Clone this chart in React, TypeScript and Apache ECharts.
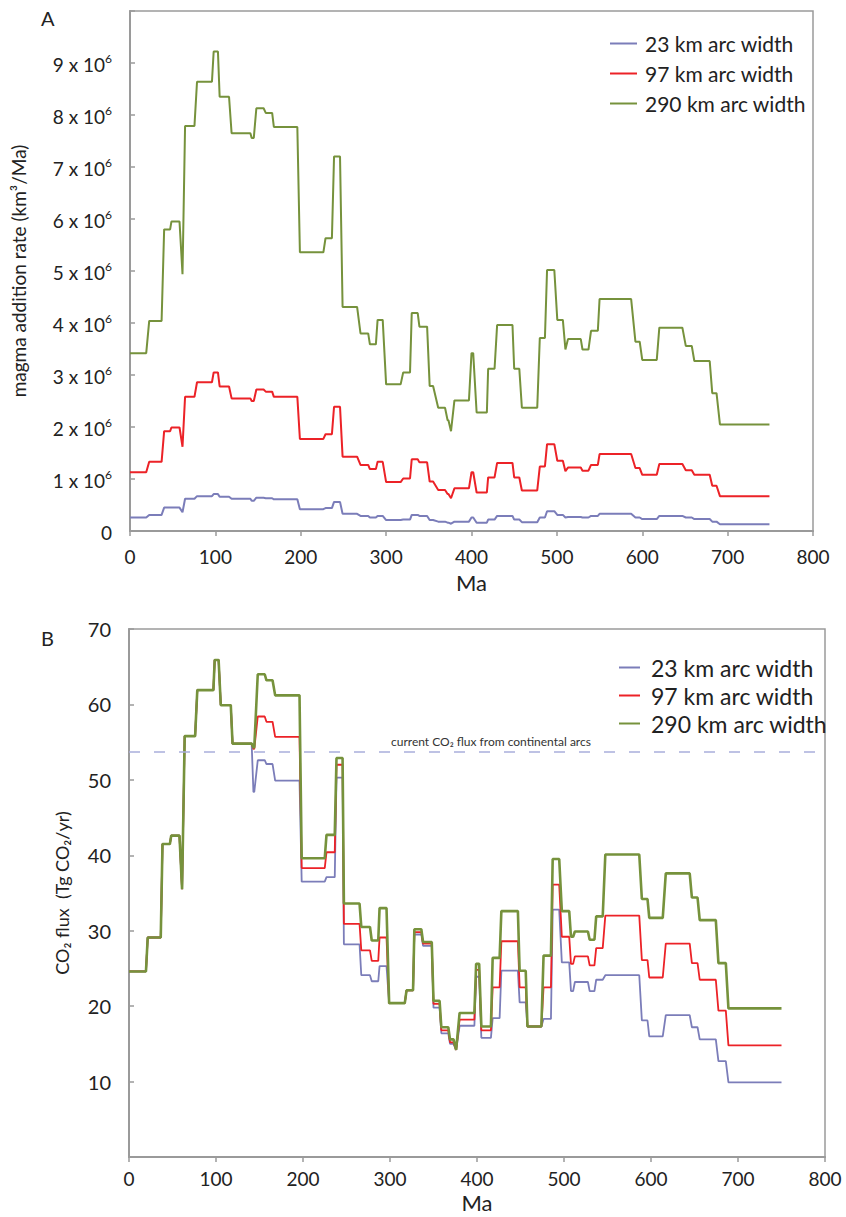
import React, { useEffect, useRef } from 'react';
import * as echarts from 'echarts';

const SERIES_NAMES = ['23 km arc width', '97 km arc width', '290 km arc width'];
const COLORS = ['#7b7db9', '#ec2227', '#76923c'];
const X_TICKS = [0, 100, 200, 300, 400, 500, 600, 700, 800];

// Panel A: plateau start / end ages (Ma) and magma addition rate (x 10^6 km3/Ma)
const agesStartA = [0, 22.5, 40, 48.5, 61.5, 64.5, 78.5, 98, 105, 119, 142.5, 148, 159, 168.5, 199, 229, 239, 249, 270, 281, 290, 300, 320, 330, 339, 351, 361, 372, 376, 380, 400, 406, 419.5, 430, 450, 459, 480, 488.5, 500.5, 510, 513, 530, 540, 550, 592, 600, 620, 651, 661, 682, 691];
const agesEndA = [19, 37, 47, 58, 61.5, 75.5, 96, 103, 116, 141, 145, 156.5, 166.5, 196, 226.5, 236.5, 246, 266, 279, 288, 296, 317, 328, 337, 348, 355, 369, 373, 376, 397, 402, 418, 427, 448, 456, 477, 486, 497, 507, 510, 528, 537, 548, 587, 597, 617, 647, 658, 679, 687, 749];
const magma23 = [0.26, 0.31, 0.45, 0.45, 0.36, 0.62, 0.67, 0.71, 0.66, 0.62, 0.58, 0.64, 0.63, 0.61, 0.42, 0.44, 0.56, 0.33, 0.29, 0.26, 0.29, 0.21, 0.22, 0.31, 0.29, 0.21, 0.18, 0.16, 0.14, 0.18, 0.26, 0.16, 0.22, 0.29, 0.22, 0.17, 0.26, 0.38, 0.31, 0.26, 0.27, 0.26, 0.29, 0.33, 0.26, 0.23, 0.29, 0.26, 0.23, 0.18, 0.13];
const magma97 = [1.13, 1.33, 1.92, 1.99, 1.62, 2.58, 2.86, 3.05, 2.78, 2.55, 2.50, 2.72, 2.68, 2.58, 1.77, 1.86, 2.39, 1.43, 1.27, 1.19, 1.33, 0.94, 1.01, 1.38, 1.32, 0.95, 0.79, 0.71, 0.63, 0.82, 1.13, 0.74, 1.03, 1.31, 1.03, 0.78, 1.24, 1.67, 1.35, 1.15, 1.22, 1.16, 1.27, 1.48, 1.21, 1.08, 1.29, 1.17, 1.08, 0.87, 0.67];
const magma290 = [3.42, 4.04, 5.80, 5.95, 4.94, 7.79, 8.64, 9.22, 8.35, 7.65, 7.56, 8.13, 8.04, 7.77, 5.36, 5.63, 7.20, 4.31, 3.80, 3.59, 4.06, 2.82, 3.05, 4.19, 3.93, 2.79, 2.37, 2.13, 1.92, 2.51, 3.42, 2.28, 3.12, 3.96, 3.12, 2.37, 3.71, 5.02, 4.06, 3.49, 3.69, 3.49, 3.85, 4.46, 3.64, 3.29, 3.91, 3.56, 3.27, 2.65, 2.05];
const yTicksA = [0, 1, 2, 3, 4, 5, 6, 7, 8, 9];

// Panel B: plateau start / end ages (Ma) and CO2 flux (Tg CO2/yr)
const agesStartB = [0, 21.5, 38.5, 48.5, 61, 64, 78.5, 98.5, 105.5, 119, 143, 148, 158, 168, 198.5, 227, 238.5, 247, 267, 279, 288, 299, 319, 328, 338, 350, 359, 369, 376, 380, 399, 405, 418, 428, 449, 458, 476.5, 487, 497.5, 508, 512.5, 529.5, 537, 547.5, 589.5, 598, 617, 647, 656, 677.5, 689];
const agesEndB = [19.5, 36.5, 47, 58, 61, 76, 97, 103, 117, 141, 144, 156, 165, 196, 225, 236.5, 245.5, 265, 277, 286.5, 296, 317, 326.5, 336, 348, 357, 367, 373, 376, 397, 402.5, 416, 426, 447, 456, 474, 485, 494.5, 506, 510.5, 527.5, 535, 544.5, 586.5, 596, 613.5, 644.5, 653.5, 674.5, 686, 750];
const flux23 = [24.6, 29.1, 41.5, 42.6, 35.5, 55.8, 61.9, 65.9, 59.9, 54.8, 48.4, 52.6, 52.1, 49.9, 36.5, 37.1, 50.3, 28.2, 24.1, 23.3, 25.3, 20.4, 22.1, 29.5, 28.0, 19.8, 16.4, 15.0, 14.2, 17.4, 23.9, 15.8, 18.4, 24.7, 20.5, 17.3, 18.3, 32.8, 25.8, 22.0, 23.2, 22.0, 23.5, 24.1, 18.1, 16.0, 18.8, 17.2, 15.6, 12.7, 9.9];
const flux97 = [24.6, 29.1, 41.5, 42.6, 35.5, 55.8, 61.9, 65.9, 59.9, 54.8, 54.1, 58.4, 57.7, 55.7, 38.3, 40.4, 52.0, 30.9, 27.4, 26.0, 29.1, 20.4, 22.1, 29.8, 28.3, 20.3, 16.8, 15.2, 14.2, 18.2, 24.8, 16.8, 22.5, 28.6, 22.5, 17.3, 22.5, 36.1, 29.2, 25.6, 26.6, 25.4, 27.7, 32.0, 26.1, 23.8, 28.3, 25.7, 23.5, 19.4, 14.8];
const flux290 = [24.6, 29.1, 41.5, 42.6, 35.5, 55.8, 61.9, 65.9, 59.9, 54.8, 54.3, 64.0, 63.2, 61.2, 39.6, 42.7, 52.9, 33.6, 30.5, 28.7, 33.0, 20.4, 22.1, 30.2, 28.5, 20.7, 17.2, 15.6, 14.2, 19.1, 25.6, 17.3, 26.4, 32.6, 24.7, 17.3, 26.7, 39.5, 32.6, 29.2, 29.9, 28.8, 31.9, 40.1, 34.2, 31.7, 37.6, 34.4, 31.4, 25.7, 19.7];
const yTicksB = [0, 10, 20, 30, 40, 50, 60, 70];
const CURRENT_ARC_FLUX = 53.7;

const FONT = 'Lato, "Open Sans", "DejaVu Sans", sans-serif';
const TEXT = '#222';
const AXIS = '#9a9a9a';

function steps(starts: number[], ends: number[], vals: number[]): number[][] {
  const out: number[][] = [];
  for (let i = 0; i < vals.length; i++) {
    out.push([starts[i], vals[i]]);
    if (ends[i] !== starts[i]) out.push([ends[i], vals[i]]);
  }
  return out;
}

export default function App() {
  const ref = useRef<HTMLDivElement>(null);
  useEffect(() => {
    if (!ref.current) return;
    const chart = echarts.init(ref.current, null, { renderer: 'svg' });

    const xAxisBase = (gridIndex: number, nameGap: number, labelMargin: number) => ({
      type: 'value',
      gridIndex,
      min: X_TICKS[0],
      max: X_TICKS[X_TICKS.length - 1],
      interval: X_TICKS[1] - X_TICKS[0],
      name: 'Ma',
      nameLocation: 'middle',
      nameGap,
      nameTextStyle: { fontSize: 22, color: TEXT, fontFamily: FONT },
      axisLine: { show: true, onZero: false, lineStyle: { color: AXIS, width: 2 } },
      axisTick: { show: true, inside: false, length: 5, lineStyle: { color: AXIS, width: 1.5 } },
      axisLabel: { fontSize: 19, color: TEXT, fontFamily: FONT, margin: labelMargin },
      splitLine: { show: false },
    });

    const lineSeries = (name: string, color: string, data: number[][], idx: number, z: number, width: number, extra: any = {}) => ({
      type: 'line',
      name,
      xAxisIndex: idx,
      yAxisIndex: idx,
      data,
      showSymbol: false,
      symbol: 'none',
      z,
      lineStyle: { color, width },
      itemStyle: { color },
      ...extra,
    });

    const option: any = {
      animation: false,
      backgroundColor: '#ffffff',
      grid: [
        { left: 130, top: 11, width: 683, height: 520, show: true, borderColor: AXIS, borderWidth: 1.5, backgroundColor: 'transparent' },
        { left: 129, top: 629, width: 696, height: 528, show: true, borderColor: AXIS, borderWidth: 1.5, backgroundColor: 'transparent' },
      ],
      xAxis: [xAxisBase(0, 40, 16), xAxisBase(1, 34, 12)],
      yAxis: [
        {
          type: 'value',
          gridIndex: 0,
          min: yTicksA[0],
          max: 10,
          interval: 1,
          name: 'magma addition rate (km³/Ma)',
          nameLocation: 'middle',
          nameGap: 102,
          nameTextStyle: { fontSize: 19, color: TEXT, fontFamily: FONT },
          axisLine: { show: true, lineStyle: { color: AXIS, width: 2 } },
          axisTick: { show: true, inside: true, length: 5, lineStyle: { color: AXIS, width: 1.5 } },
          axisLabel: {
            margin: 18,
            color: TEXT,
            fontFamily: FONT,
            formatter: (v: number) => (v === 0 ? '{n|0}' : v > yTicksA[yTicksA.length - 1] ? '' : `{n|${v} x 10}{s|6}`),
            rich: {
              n: { fontSize: 19, color: TEXT, fontFamily: FONT, lineHeight: 22, verticalAlign: 'bottom' },
              s: { fontSize: 12, color: TEXT, fontFamily: FONT, lineHeight: 12, verticalAlign: 'top' },
            },
          },
          splitLine: { show: false },
        },
        {
          type: 'value',
          gridIndex: 1,
          min: yTicksB[0],
          max: yTicksB[yTicksB.length - 1],
          interval: 10,
          name: 'CO₂ flux  (Tg CO₂/yr)',
          nameLocation: 'middle',
          nameGap: 58,
          nameTextStyle: { fontSize: 18, color: TEXT, fontFamily: FONT },
          axisLine: { show: true, lineStyle: { color: AXIS, width: 2 } },
          axisTick: { show: true, inside: true, length: 5, lineStyle: { color: AXIS, width: 1.5 } },
          axisLabel: {
            margin: 18,
            fontSize: 20,
            color: TEXT,
            fontFamily: FONT,
            formatter: (v: number) => (v === 0 ? '' : String(v)),
          },
          splitLine: { show: false },
        },
      ],
      legend: [
        {
          data: SERIES_NAMES,
          orient: 'vertical',
          left: 605,
          top: 28,
          icon: 'rect',
          itemWidth: 27,
          itemHeight: 2,
          itemGap: 9,
          selectedMode: false,
          textStyle: { fontSize: 21, color: TEXT, fontFamily: FONT, lineHeight: 21, padding: [0, 0, 0, 3] },
        },
        {
          data: SERIES_NAMES,
          orient: 'vertical',
          left: 614,
          top: 651,
          icon: 'rect',
          itemWidth: 21,
          itemHeight: 2,
          itemGap: 5,
          selectedMode: false,
          textStyle: { fontSize: 23, color: TEXT, fontFamily: FONT, lineHeight: 23, padding: [0, 0, 0, 6] },
        },
      ],
      graphic: [
        { type: 'text', left: 41, top: 8, style: { text: 'A', fontSize: 20, fill: TEXT, fontFamily: FONT } },
        { type: 'text', left: 41, top: 628, style: { text: 'B', fontSize: 20, fill: TEXT, fontFamily: FONT } },
        {
          type: 'text',
          left: 391,
          top: 735,
          z: 10,
          style: { text: 'current CO₂ flux from continental arcs', fontSize: 12, fill: '#333', fontFamily: FONT },
        },
      ],
      series: [
        lineSeries(SERIES_NAMES[0], COLORS[0], steps(agesStartA, agesEndA, magma23), 0, 2, 2),
        lineSeries(SERIES_NAMES[1], COLORS[1], steps(agesStartA, agesEndA, magma97), 0, 3, 2),
        lineSeries(SERIES_NAMES[2], COLORS[2], steps(agesStartA, agesEndA, magma290), 0, 4, 2),
        lineSeries(SERIES_NAMES[0], COLORS[0], steps(agesStartB, agesEndB, flux23), 1, 2, 1.8, {
          markLine: {
            silent: true,
            symbol: 'none',
            label: { show: false },
            lineStyle: { color: '#a9aedb', width: 1.5, type: [11, 14] },
            data: [{ yAxis: CURRENT_ARC_FLUX }],
          },
        }),
        lineSeries(SERIES_NAMES[1], COLORS[1], steps(agesStartB, agesEndB, flux97), 1, 3, 1.8),
        lineSeries(SERIES_NAMES[2], COLORS[2], steps(agesStartB, agesEndB, flux290), 1, 4, 2.6),
      ],
    };

    chart.setOption(option);
    return () => chart.dispose();
  }, []);

  return (
    <div
      ref={ref}
      style={{ position: 'absolute', left: 0, top: 0, width: 846, height: 1217, background: '#fff' }}
    />
  );
}
